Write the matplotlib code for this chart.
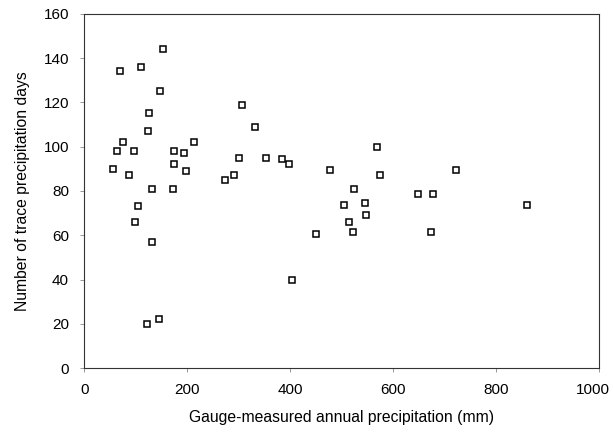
import matplotlib
matplotlib.use('Agg')
import matplotlib.pyplot as plt
import matplotlib.transforms as mtransforms

# gauge-measured annual precipitation (mm) vs number of trace precipitation days
precip = [69, 110, 153, 147, 126, 124, 75, 63, 96, 56, 87, 132, 172, 175, 193, 175,
          197, 213, 273, 291, 301, 307, 104, 98, 132, 122, 145,
          331, 353, 385, 398, 478, 568, 575, 525, 504, 545, 548, 515, 523, 450, 403,
          649, 677, 673, 722, 861]
trace_days = [134, 136, 144, 125, 115, 107, 102, 98, 98, 90, 87, 81, 81, 98, 97, 92,
              89, 102, 85, 87, 95, 119, 73, 66, 57, 20, 22,
              109, 95, 94.5, 92, 89.5, 100, 87, 81, 73.5, 74.5, 69, 66, 61.5, 60.5, 40,
              78.5, 78.5, 61.5, 89.5, 73.5]

plt.rcParams['font.family'] = ['Liberation Sans', 'DejaVu Sans']

fig = plt.figure(figsize=(6.13, 4.33), dpi=100)
ax = fig.add_axes([0.1375, 0.150, 0.8395, 0.818])

ax.plot(precip, trace_days, 's', markersize=5, markerfacecolor='white',
        markeredgecolor='black', markeredgewidth=1.1, linestyle='none')

ax.set_xlim(0, 1000)
ax.set_ylim(0, 160)
ax.set_xticks(range(0, 1001, 200))
ax.set_yticks(range(0, 161, 20))
ax.tick_params(axis='both', labelsize=11, length=3, width=0.6, color='#888888', pad=8)

# nudge the last x label so it stays inside the figure
last = ax.get_xticklabels()[-1]
last.set_transform(last.get_transform() +
                   mtransforms.ScaledTranslation(-4 / 72, 0, fig.dpi_scale_trans))

for s in ax.spines.values():
    s.set_linewidth(0.8)
    s.set_color('#333333')

ax.set_xlabel('Gauge-measured annual precipitation (mm)', fontsize=11.3, labelpad=9)
ax.set_ylabel('Number of trace precipitation days', fontsize=11.3, labelpad=10)

fig.savefig('out.png', dpi=100)
